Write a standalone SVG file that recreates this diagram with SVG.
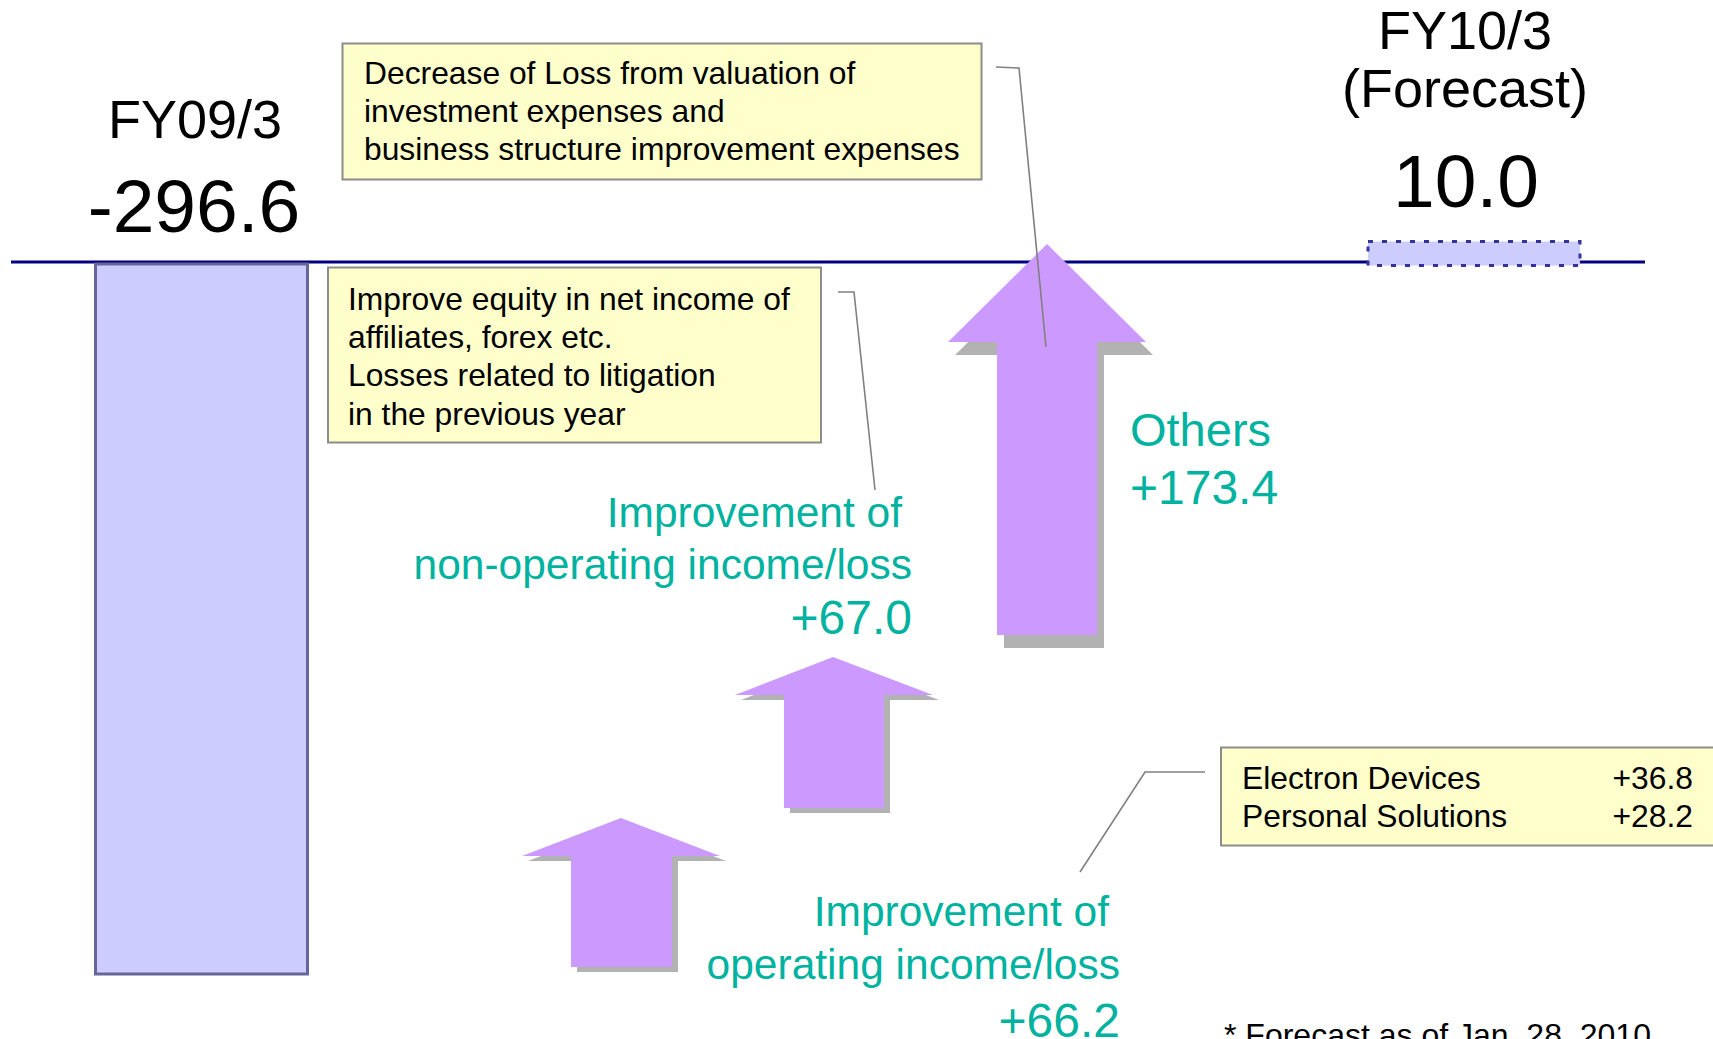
<svg xmlns="http://www.w3.org/2000/svg" width="1713" height="1039" viewBox="0 0 1713 1039">
  <style>
    text { font-family: "Liberation Sans", Arial, sans-serif; }
    .head { fill: #000000; font-size: 54px; text-anchor: middle; }
    .value { fill: #000000; font-size: 75px; text-anchor: middle; }
    .note { fill: #FFFFCC; stroke: #8C8C8C; stroke-width: 2; }
    .noteText { fill: #000000; font-size: 31.8px; }
    .label { fill: #00B2A0; font-size: 42.5px; }
    .num { fill: #00B2A0; font-size: 48px; }
    .arrow { fill: #CC99FF; }
    .shadow { fill: #B2B2B2; }
    .leader { fill: none; stroke: #808080; stroke-width: 1.6; }
  </style>
  <defs>
    <path id="arrowBig" d="M1047,244 L1146,342 L1097,342 L1097,635 L997,635 L997,342 L948,342 Z"/>
    <path id="arrowMid" d="M833,657 L933,695 L884,695 L884,808 L784,808 L784,695 L735,695 Z"/>
    <path id="arrowSmall" d="M621,818 L720,856 L672,856 L672,967 L571,967 L571,856 L522,856 Z"/>
  </defs>
  <rect width="1713" height="1039" fill="#FFFFFF"/>

  <!-- zero axis -->
  <line id="axis" x1="11" y1="262" x2="1645" y2="262" stroke="#000080" stroke-width="3"/>

  <!-- FY09/3 bar -->
  <g id="bar-fy09">
    <rect x="95.5" y="264" width="212" height="710" fill="#CCCCFF" stroke="#666699" stroke-width="3"/>
    <text class="head" x="195" y="138">FY09/3</text>
    <text class="value" x="194" y="232">-296.6</text>
  </g>

  <!-- FY10/3 forecast bar -->
  <g id="bar-fy10">
    <rect x="1368" y="241.5" width="212" height="24" fill="#CCCCFF" stroke="#333399" stroke-width="3" stroke-dasharray="5,9"/>
    <text class="head" x="1465" y="49">FY10/3</text>
    <text class="head" x="1465" y="107">(Forecast)</text>
    <text class="value" x="1466" y="207">10.0</text>
  </g>

  <!-- step arrows -->
  <g id="arrow-operating">
    <use href="#arrowSmall" class="shadow" transform="translate(6,5)"/>
    <use href="#arrowSmall" class="arrow"/>
  </g>
  <g id="arrow-nonoperating">
    <use href="#arrowMid" class="shadow" transform="translate(6,5)"/>
    <use href="#arrowMid" class="arrow"/>
  </g>
  <g id="arrow-others">
    <use href="#arrowBig" class="shadow" transform="translate(7,13)"/>
    <use href="#arrowBig" class="arrow"/>
  </g>

  <!-- leader lines from notes -->
  <g id="connectors">
    <polyline class="leader" points="996,67 1019,68 1046,347"/>
    <polyline class="leader" points="838,292 854,292 875,490"/>
    <polyline class="leader" points="1205,772 1145,772 1080,872"/>
  </g>

  <!-- notes -->
  <g id="note-others">
    <rect class="note" x="342.5" y="43.5" width="639" height="136"/>
    <text class="noteText" x="364" y="84">Decrease of Loss from valuation of</text>
    <text class="noteText" x="364" y="122">investment expenses and</text>
    <text class="noteText" x="364" y="160">business structure improvement expenses</text>
  </g>
  <g id="note-nonoperating">
    <rect class="note" x="328" y="267.5" width="493" height="175"/>
    <text class="noteText" x="348" y="310">Improve equity in net income of</text>
    <text class="noteText" x="348" y="348">affiliates, forex etc.</text>
    <text class="noteText" x="348" y="386">Losses related to litigation</text>
    <text class="noteText" x="348" y="425">in the previous year</text>
  </g>
  <g id="note-operating">
    <rect class="note" x="1221" y="747.5" width="520" height="98"/>
    <text class="noteText" x="1242" y="789">Electron Devices</text>
    <text class="noteText" x="1242" y="827">Personal Solutions</text>
    <text class="noteText" x="1693" y="789" text-anchor="end">+36.8</text>
    <text class="noteText" x="1693" y="827" text-anchor="end">+28.2</text>
  </g>

  <!-- step labels -->
  <g id="label-nonoperating" text-anchor="end">
    <text class="label" x="902" y="527">Improvement of</text>
    <text class="label" x="912" y="579">non-operating income/loss</text>
    <text class="num" x="912" y="634">+67.0</text>
  </g>
  <g id="label-operating" text-anchor="end">
    <text class="label" x="1109" y="926">Improvement of</text>
    <text class="label" x="1120" y="979">operating income/loss</text>
    <text class="num" x="1120" y="1037">+66.2</text>
  </g>
  <g id="label-others">
    <text class="label" x="1130" y="446" style="font-size:47px">Others</text>
    <text class="num" x="1130" y="504">+173.4</text>
  </g>

  <!-- footnote -->
  <text id="footnote" x="1224" y="1046" style="font-size:32px" fill="#000000">* Forecast as of Jan. 28, 2010</text>
</svg>
